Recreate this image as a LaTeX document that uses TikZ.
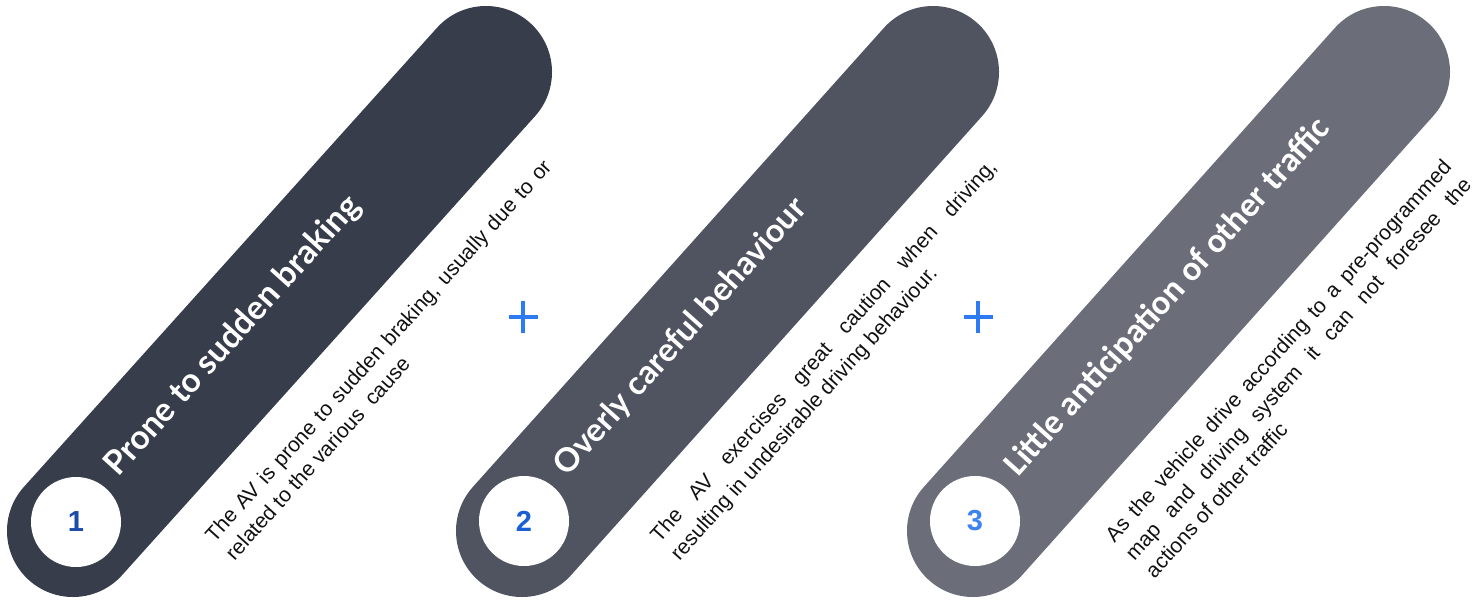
\documentclass[tikz,border=0pt]{standalone}
\usepackage{fontspec}
\setmainfont{Liberation Sans}
\newfontfamily\titlefont{Lato}
\newfontfamily\calfont{Carlito}
\usepackage{graphicx}
\definecolor{pillA}{HTML}{383D4B}
\definecolor{pillB}{HTML}{505461}
\definecolor{pillC}{HTML}{6B6E79}
\definecolor{numA}{HTML}{1B4DA8}
\definecolor{numB}{HTML}{1A5FD6}
\definecolor{numC}{HTML}{3D84F0}
\definecolor{plusblue}{HTML}{2C7BF2}
\definecolor{bodytext}{HTML}{111111}
\begin{document}
\begin{tikzpicture}[x=1pt,y=-1pt,
  pill/.style={line width=132pt, line cap=round},
  numcircle/.style={circle, fill=white, minimum size=90pt, inner sep=0pt,
    font=\bfseries\fontsize{29}{29}\selectfont},
  titlenode/.style={rotate=48, anchor=base west, inner sep=0pt, text=white},
  bodynode/.style={rotate=48, anchor=north west, inner sep=0pt, text width=505pt,
    align=justify, text=bodytext, font=\fontsize{21}{27}\selectfont,
    execute at begin node={\hyphenpenalty=10000\tolerance=10000\emergencystretch=200pt}},
  plussign/.style={line width=3.3pt, draw=plusblue}]
\useasboundingbox (0,0) rectangle (1472,600);
% pill end points
\coordinate (b1) at (73,531);  \coordinate (t1) at (486,72);
\coordinate (b2) at (522,531); \coordinate (t2) at (933,72);
\coordinate (b3) at (973,531); \coordinate (t3) at (1384,72);
\draw[pill, pillA] (b1) -- (t1);
\draw[pill, pillB] (b2) -- (t2);
\draw[pill, pillC] (b3) -- (t3);
% numbered circles
\node[numcircle, text=numA] (n1) at (76,522) {1};
\node[numcircle, text=numB] (n2) at (524,521) {2};
\node[numcircle, text=numC] (n3) at (975,521) {3};
% titles
\node[titlenode] (h1) at (118.3,477.7) {\resizebox{364pt}{!}{\titlefont\bfseries Prone to sudden braking}};
\node[titlenode] (h2) at (567.3,477.7) {\resizebox{360pt}{!}{\titlefont\bfseries Overly careful behaviour}};
\node[titlenode] (h3) at (1018.3,477.7) {\resizebox{468pt}{!}{\calfont\bfseries Little anticipation of other traffic}};
% body texts
\node[bodynode] (d1) at (203,533) {The AV is prone to sudden braking, usually due to or\linebreak related to the various\ \ cause};
\node[bodynode] (d2) at (648,533) {The AV exercises great caution when driving,\linebreak resulting in undesirable driving behaviour.};
\node[bodynode] (d3) at (1103,533) {As the vehicle drive according to a pre-programmed\linebreak map and driving system it can not foresee the\linebreak actions of other traffic};
% plus signs
\coordinate (p1) at (523,317);
\coordinate (p2) at (978,317);
\draw[plussign] ([xshift=-14.5pt]p1) -- ([xshift=14.5pt]p1);
\draw[plussign] ([yshift=-16pt]p1) -- ([yshift=16pt]p1);
\draw[plussign] ([xshift=-14.5pt]p2) -- ([xshift=14.5pt]p2);
\draw[plussign] ([yshift=-16pt]p2) -- ([yshift=16pt]p2);
\end{tikzpicture}
\end{document}
